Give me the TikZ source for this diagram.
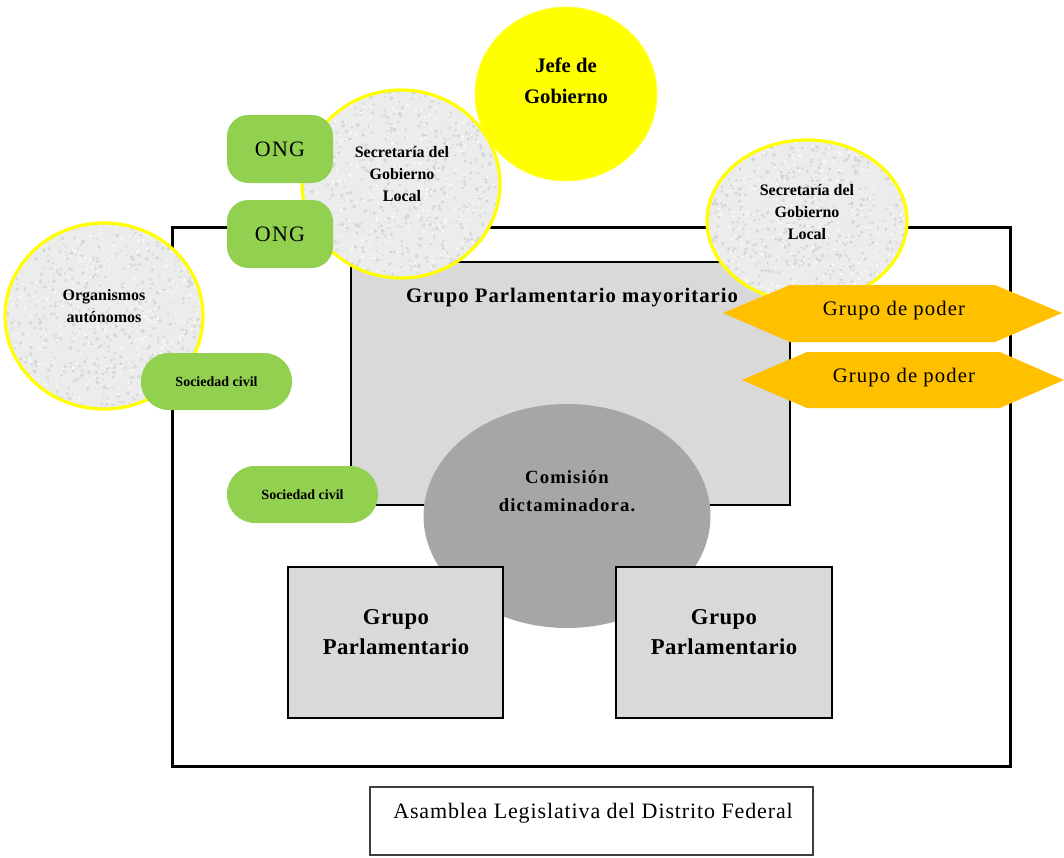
\documentclass[tikz,border=0pt]{standalone}
\usepackage{fontspec}
\setmainfont{Liberation Serif}
\usetikzlibrary{shapes.geometric}

\definecolor{leaf}{HTML}{92D050}
\definecolor{amber}{HTML}{FFC000}
\definecolor{sun}{HTML}{FFFF00}
\definecolor{paleGray}{HTML}{D9D9D9}
\definecolor{midGray}{HTML}{A6A6A6}
\definecolor{stone}{HTML}{ECECEC}
\definecolor{stoneDark}{HTML}{D6D6D6}

\tikzset{
  % speckled stone fill clipped to the node outline
  granite/.style={fill=stone, path picture={
    \pgfmathsetseed{#1}
    \pgfpointanchor{path picture bounding box}{south west}\pgfgetlastxy{\gxa}{\gya}
    \pgfpointanchor{path picture bounding box}{north east}\pgfgetlastxy{\gxb}{\gyb}
    \foreach \k in {1,...,650}{
      \pgfmathsetmacro{\gx}{\gxa+rnd*(\gxb-\gxa)}
      \pgfmathsetmacro{\gy}{\gya+rnd*(\gyb-\gya)}
      \pgfmathsetmacro{\gr}{0.5+rnd*1.0}
      \fill[stoneDark] (\gx pt,\gy pt) circle[radius=\gr pt];
    }
    \foreach \k in {1,...,300}{
      \pgfmathsetmacro{\gx}{\gxa+rnd*(\gxb-\gxa)}
      \pgfmathsetmacro{\gy}{\gya+rnd*(\gyb-\gya)}
      \fill[white] (\gx pt,\gy pt) circle[radius=0.8pt];
    }
  }},
  actor/.style={ellipse, draw=sun, line width=2.4pt, granite=#1, inner sep=0pt},
  actortext/.style={align=center, inner sep=0pt, font=\bfseries\fontsize{12}{16.5}\selectfont},
  panel/.style={rectangle, draw=black, line width=1.9pt, fill=paleGray, inner sep=0pt},
  pill/.style={rectangle, fill=leaf, rounded corners=21pt, inner sep=0pt,
    minimum width=113.25pt, minimum height=42.75pt,
    font=\bfseries\fontsize{10.5}{12}\selectfont},
  ongbox/.style={rectangle, fill=leaf, rounded corners=16pt, inner sep=0pt,
    minimum width=79.5pt, minimum height=51pt,
    font=\fontsize{16.5}{18}\selectfont\addfontfeature{LetterSpace=6}},
  power/.style={fill=amber},
  powertext/.style={inner sep=0pt,
    font=\fontsize{15.5}{17}\selectfont\addfontfeature{LetterSpace=5.5}},
  grouptext/.style={align=center, inner sep=0pt,
    font=\bfseries\fontsize{17}{22}\selectfont\addfontfeature{LetterSpace=2}},
}

\begin{document}
\begin{tikzpicture}[x=0.75pt, y=-0.75pt]
\useasboundingbox (0,0) rectangle (1064,857);

% Assembly frame
\node[rectangle, draw=black, line width=2.25pt, minimum width=628.5pt,
      minimum height=404.25pt, inner sep=0pt] (frame) at (591,496.5) {};

% Autonomous bodies
\node[actor=11, minimum width=148.5pt, minimum height=139.5pt] (org) at (104,316) {};
\node[actortext] (orgText) at (104,306) {Organismos\\aut\'onomos};

% Majority parliamentary group
\node[panel, minimum width=329.25pt, minimum height=182.25pt] (mayor) at (570.5,383.5) {};
\node[inner sep=0pt, font=\bfseries\fontsize{15.5}{17}\selectfont\addfontfeature{LetterSpace=5}]
  (mayorText) at (572,298) {Grupo Parlamentario mayoritario};

% Head of government and the local secretariats
\node[ellipse, fill=sun, draw=sun!70!white, line width=0.6pt, minimum width=136.5pt,
      minimum height=130.5pt, inner sep=0pt] (jefe) at (566,94) {};
\node[align=center, inner sep=0pt, font=\bfseries\fontsize{15.5}{23}\selectfont]
  (jefeText) at (566,81) {Jefe de\\Gobierno};
\node[actor=23, minimum width=148.5pt, minimum height=141pt] (secL) at (401,184) {};
\node[actortext] (secLText) at (402,174) {Secretar\'ia del\\Gobierno\\Local};
\node[actor=37, minimum width=150pt, minimum height=121.5pt] (secR) at (807,221) {};
\node[actortext] (secRText) at (807,212) {Secretar\'ia del\\Gobierno\\Local};

% NGOs
\node[ongbox] (ong1) at (280,149) {ONG};
\node[ongbox] (ong2) at (280,234) {ONG};

% Power groups
\fill[power] (723,313) -- (790,285) -- (995,285) -- (1062,313) -- (995,342) -- (790,342) -- cycle;
\node[powertext] (poder1) at (894,311) {Grupo de poder};
\fill[power] (742,380) -- (807,352) -- (1000,352) -- (1064,380) -- (1000,408) -- (807,408) -- cycle;
\node[powertext] (poder2) at (904,378) {Grupo de poder};

% Committee
\node[ellipse, fill=midGray, minimum width=215.25pt, minimum height=168pt, inner sep=0pt]
  (comision) at (567,516) {};
\node[align=center, inner sep=0pt,
      font=\bfseries\fontsize{14}{21}\selectfont\addfontfeature{LetterSpace=6}]
  (comText) at (567,491) {Comisi\'on\\dictaminadora.};

% Parliamentary groups
\node[panel, minimum width=161.25pt, minimum height=113.25pt] (gpL) at (395.5,642.5) {};
\node[grouptext] (gpLText) at (396,632) {Grupo\\Parlamentario};
\node[panel, minimum width=162pt, minimum height=113.25pt] (gpR) at (724,642.5) {};
\node[grouptext] (gpRText) at (724,632) {Grupo\\Parlamentario};

% Civil society
\node[pill] (soc1) at (216.5,381.5) {Sociedad civil};
\node[pill] (soc2) at (302.5,494.5) {Sociedad civil};

% Caption
\node[rectangle, draw=black!75, line width=0.9pt, minimum width=332.25pt,
      minimum height=51pt, inner sep=0pt] (caption) at (591.5,821) {};
\node[inner sep=0pt, font=\fontsize{16.5}{18}\selectfont\addfontfeature{LetterSpace=4}]
  (captionText) at (593,813) {Asamblea Legislativa del Distrito Federal};
\end{tikzpicture}
\end{document}
